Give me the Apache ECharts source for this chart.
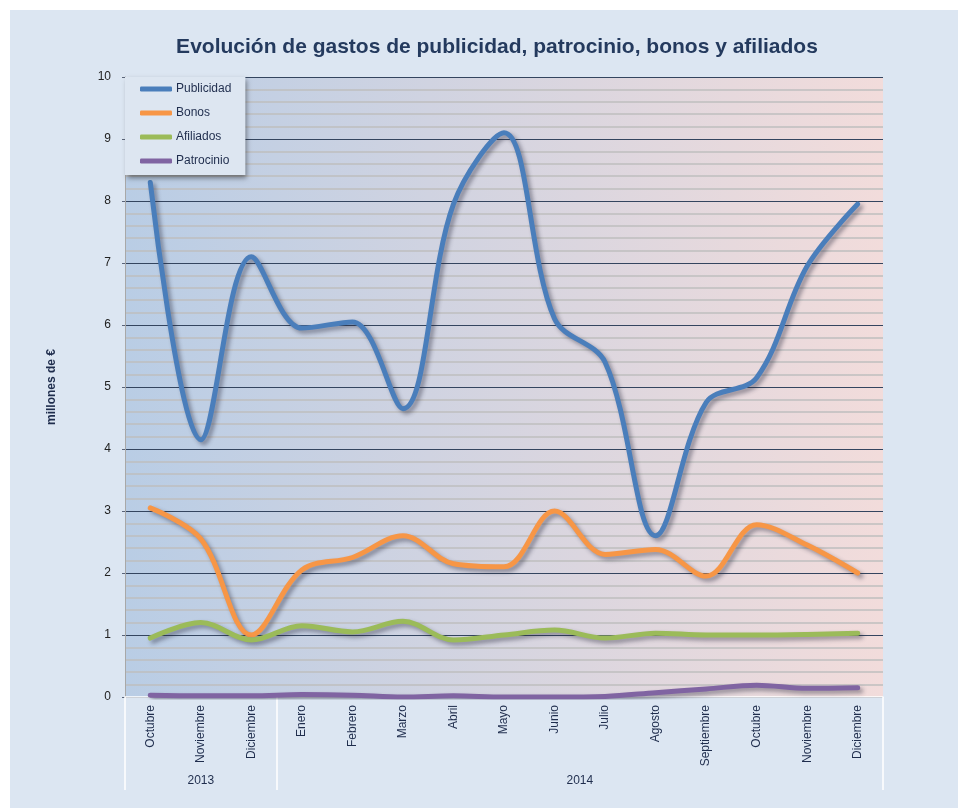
<!DOCTYPE html>
<html>
<head>
<meta charset="utf-8">
<script src="https://cdn.jsdelivr.net/npm/echarts@6/dist/echarts.min.js"></script>
<style>
  html, body { margin: 0; padding: 0; background: #fff; }
  #chart { width: 958px; height: 808px; }
</style>
</head>
<body>
<div id="chart"></div>
<script>
var months = ['Octubre', 'Noviembre', 'Diciembre', 'Enero', 'Febrero', 'Marzo', 'Abril', 'Mayo',
              'Junio', 'Julio', 'Agosto', 'Septiembre', 'Octubre', 'Noviembre', 'Diciembre'];
var years = ['2013', '2014'];
var yearMonths = [3, 12];   // number of months in each year group

var publicidad = [8.3, 4.15, 7.1, 5.95, 6.05, 4.65, 7.95, 9.1, 6.1, 5.4, 2.6, 4.75, 5.15, 6.95, 7.95];
var bonos      = [3.05, 2.55, 1.0, 2.05, 2.25, 2.6, 2.15, 2.1, 3.0, 2.3, 2.38, 1.95, 2.78, 2.45, 2.0];
var afiliados  = [0.95, 1.2, 0.92, 1.15, 1.05, 1.22, 0.92, 1.0, 1.08, 0.95, 1.03, 1.0, 1.0, 1.01, 1.03];
var patrocinio = [0.03, 0.02, 0.02, 0.04, 0.03, 0.0, 0.02, 0.0, 0.0, 0.01, 0.07, 0.13, 0.19, 0.14, 0.15];

var FONT = '"Liberation Sans Narrow", "Arial Narrow", "Liberation Sans", sans-serif';
var TXT = '#1f2d4d';

// group boundaries and centres for the year row
var bounds = [0], centres = [];
yearMonths.forEach(function (n, i) {
    var s = bounds[i];
    bounds.push(s + n);
    centres.push(s + n / 2);
});

var dom = document.getElementById('chart');
var myChart = echarts.init(dom);

function lineSeries(name, data, color) {
    return {
        name: name,
        type: 'line',
        data: data,
        smooth: 0.35,
        showSymbol: false,
        symbol: 'none',
        itemStyle: { color: color },
        lineStyle: {
            color: color,
            width: 5,
            cap: 'round',
            join: 'round',
            shadowColor: 'rgba(40,40,60,0.45)',
            shadowBlur: 4,
            shadowOffsetX: 3,
            shadowOffsetY: 3
        }
    };
}

var option = {
    backgroundColor: '#fff',
    animation: false,
    textStyle: { fontFamily: FONT },
    graphic: [{
        type: 'rect',
        z: -10,
        shape: { x: 10, y: 10, width: 948, height: 798 },
        style: { fill: '#dce6f2' }
    }],
    title: {
        text: 'Evolución de gastos de publicidad, patrocinio, bonos y afiliados',
        left: 492,
        top: 32,
        textAlign: 'center',
        textStyle: { fontFamily: FONT, fontSize: 21, fontWeight: 'bold', color: '#243a5e' }
    },
    legend: {
        orient: 'vertical',
        left: 125,
        top: 77,
        padding: [6, 14, 8, 15],
        itemWidth: 32,
        itemHeight: 5,
        itemGap: 12,
        icon: 'roundRect',
        backgroundColor: '#dde6f1',
        shadowColor: 'rgba(0,0,0,0.45)',
        shadowBlur: 5,
        shadowOffsetX: 2,
        shadowOffsetY: 3,
        textStyle: { fontFamily: FONT, fontSize: 12, color: TXT, padding: [0, 0, 0, -1] },
        data: ['Publicidad', 'Bonos', 'Afiliados', 'Patrocinio']
    },
    grid: {
        left: 125,
        right: 75,
        top: 77,
        bottom: 111,
        show: true,
        borderWidth: 0,
        backgroundColor: new echarts.graphic.LinearGradient(0, 0, 1, 0, [
            { offset: 0, color: '#b9cde5' },
            { offset: 1, color: '#f2dcdb' }
        ])
    },
    xAxis: [{
        type: 'category',
        data: months,
        boundaryGap: true,
        axisLine: { show: true, lineStyle: { color: '#ffffff', width: 1.5 } },
        axisTick: { show: false },
        axisLabel: {
            rotate: 90,
            interval: 0,
            margin: 8,
            fontFamily: FONT,
            fontSize: 12,
            color: TXT
        }
    }, {
        type: 'value',
        position: 'bottom',
        min: 0,
        max: months.length,
        axisLine: { show: false },
        splitLine: { show: false },
        axisTick: {
            show: true,
            customValues: bounds,
            length: 93,
            lineStyle: { color: '#ffffff', width: 1.5 }
        },
        axisLabel: {
            customValues: centres,
            margin: 78,
            fontFamily: FONT,
            fontSize: 12,
            color: TXT,
            formatter: function (v) {
                var i = centres.indexOf(v);
                return i >= 0 ? years[i] : '';
            }
        }
    }],
    yAxis: {
        type: 'value',
        min: 0,
        max: 10,
        interval: 1,
        name: 'millones de €',
        nameLocation: 'middle',
        nameGap: 67,
        nameTextStyle: { fontFamily: FONT, fontSize: 12, fontWeight: 'bold', color: TXT, padding: [0, 0, 0, 0] },
        axisLine: { show: true, lineStyle: { color: '#a8a8a8', width: 1 } },
        axisTick: { show: true, length: 3, lineStyle: { color: '#5a6478' } },
        axisLabel: { margin: 14, fontFamily: FONT, fontSize: 12, color: '#222' },
        splitLine: { show: true, lineStyle: { color: '#34455f', width: 1 } },
        minorTick: { show: false, splitNumber: 5 },
        minorSplitLine: { show: true, lineStyle: { color: '#bfbfbf', width: 1.5 } }
    },
    series: [
        lineSeries('Publicidad', publicidad, '#4a7ebb'),
        lineSeries('Bonos', bonos, '#f79646'),
        lineSeries('Afiliados', afiliados, '#9bbb59'),
        lineSeries('Patrocinio', patrocinio, '#8064a2')
    ]
};

if (option && typeof option === 'object') {
    myChart.setOption(option, true);
}
</script>
</body>
</html>
